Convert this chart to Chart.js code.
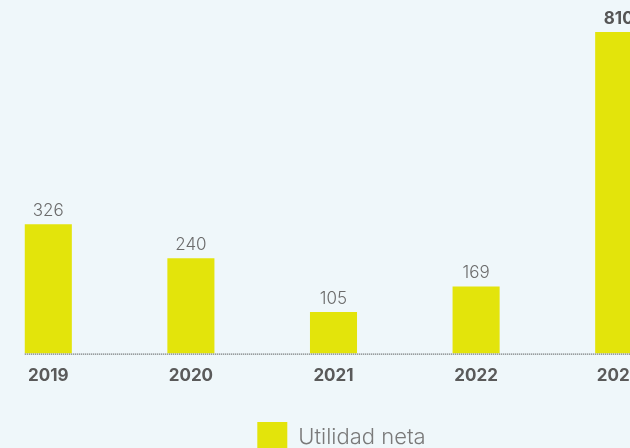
<!DOCTYPE html>
<html>
<head>
<meta charset="utf-8">
<script src="https://cdn.jsdelivr.net/npm/chart.js@4"></script>
<style>
  html, body { margin: 0; padding: 0; background: #eff7fa; overflow: hidden; width: 630px; height: 448px; }
  #wrap { position: absolute; left: -23px; top: 0; width: 729px; height: 462px; }
</style>
</head>
<body>
<div id="wrap"><canvas id="myChart"></canvas></div>
<script>
const years = ['2019', '2020', '2021', '2022', '2023'];
const utilidadNeta = [326, 240, 105, 169, 810];
const seriesName = 'Utilidad neta';

const BAR_COLOR = '#e3e40b';
const TEXT_GRAY = '#6b6b6b';
const FONT = 'Inter, "Noto Sans", sans-serif';

// value labels above bars + dotted baseline
const barLabels = {
    id: 'barLabels',
    afterDatasetsDraw(chart) {
        const ctx = chart.ctx;
        const meta = chart.getDatasetMeta(0);
        const yScale = chart.scales.y;
        const base = yScale.getPixelForValue(0);
        ctx.save();
        // dotted baseline
        ctx.strokeStyle = '#333';
        ctx.lineWidth = 1;
        ctx.setLineDash([1, 1]);
        ctx.beginPath();
        ctx.moveTo(meta.data[0].x - meta.data[0].width / 2, base + 0.5);
        ctx.lineTo(chart.chartArea.right, base + 0.5);
        ctx.stroke();
        ctx.setLineDash([]);
        ctx.textAlign = 'center';
        ctx.textBaseline = 'bottom';
        meta.data.forEach(function (bar, i) {
            const last = i === meta.data.length - 1;
            ctx.font = (last ? '700 ' : '300 ') + '17px ' + FONT;
            ctx.fillStyle = last ? '#555' : TEXT_GRAY;
            ctx.fillText(String(utilidadNeta[i]), bar.x, bar.y - 5);
        });
        ctx.restore();
    }
};

const ctx = document.getElementById('myChart').getContext('2d');
const myChart = new Chart(ctx, {
    type: 'bar',
    data: {
        labels: years,
        datasets: [{
            label: seriesName,
            data: utilidadNeta,
            backgroundColor: BAR_COLOR,
            borderWidth: 0,
            barPercentage: 1,
            categoryPercentage: 0.33
        }]
    },
    options: {
        responsive: true,
        maintainAspectRatio: false,
        animation: false,
        layout: { padding: { top: 32, left: 0, right: 0, bottom: 0 } },
        scales: {
            x: {
                grid: { display: false, drawTicks: false },
                border: { display: false },
                ticks: {
                    color: '#5a5a5a',
                    padding: 12,
                    font: { family: FONT, size: 17, weight: '700' }
                }
            },
            y: {
                position: 'right',
                min: 0,
                max: 810,
                grid: { display: false, drawTicks: false },
                border: { display: false },
                ticks: { display: false },
                afterFit: function (scale) { scale.width = 16; }
            }
        },
        plugins: {
            legend: {
                position: 'bottom',
                labels: {
                    boxWidth: 30,
                    boxHeight: 30,
                    color: '#7a7a7a',
                    padding: 24,
                    font: { family: FONT, size: 22, weight: '300' }
                }
            },
            tooltip: { enabled: false }
        }
    },
    plugins: [barLabels]
});
</script>
</body>
</html>
